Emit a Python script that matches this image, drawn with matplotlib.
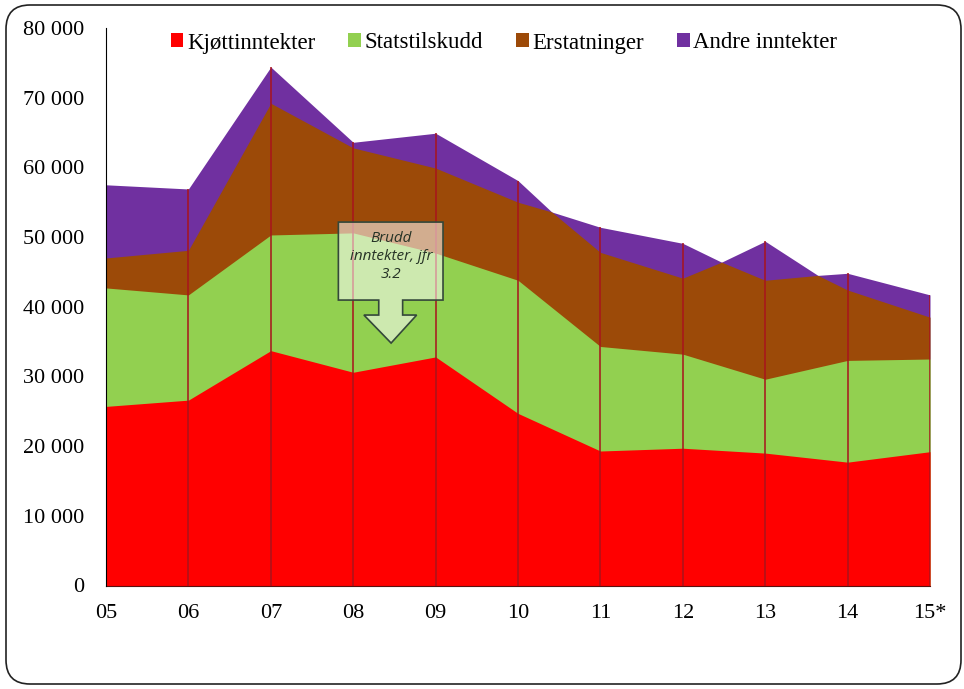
import numpy as np
import matplotlib.pyplot as plt
from matplotlib.patches import FancyBboxPatch, Polygon

# Inntekter per år (kr)
aar = ['05', '06', '07', '08', '09', '10', '11', '12', '13', '14', '15*']
kjott = [25700, 26600, 33700, 30600, 32800, 24700, 19300, 19700, 19000, 17700, 19200]
statstilskudd = [17000, 15100, 16600, 20000, 14900, 19100, 15000, 13500, 10600, 14600, 13300]
erstatninger = [4300, 6400, 18900, 12200, 12200, 11200, 13500, 10900, 14200, 10100, 6000]
andre = [10500, 8800, 5200, 800, 5000, 3100, 3600, 5000, 5600, 2400, 3200]

# punkter mellom årene der "Andre inntekter" går til null
knekk_pos = [5.41, 7.47, 8.64]
knekk_sum = [53600, 46400, 44500]

navn = ['Kjøttinntekter', 'Statstilskudd', 'Erstatninger', 'Andre inntekter']
farger = ['#FF0000', '#92D050', '#9C4A08', '#7030A0']

x = np.arange(len(aar))
sum_lag = np.cumsum([kjott, statstilskudd, erstatninger, andre], axis=0)

# de to øverste lagene får med knekkpunktene
xk = np.concatenate([x, knekk_pos])
rekkef = np.argsort(xk)
xk = xk[rekkef]
topp_erst = np.concatenate([sum_lag[2], knekk_sum])[rekkef]
topp_andre = np.concatenate([sum_lag[3], knekk_sum])[rekkef]

fig = plt.figure(figsize=(9.64, 6.89), dpi=100)
ax = fig.add_axes([106 / 964, 1 - 585.5 / 689, 824 / 964, 557.5 / 689])

plt.rcParams['font.family'] = ['Liberation Serif', 'DejaVu Serif']

# overlappende flater, bakerst først
ax.fill_between(xk, 0, topp_andre, color=farger[3], lw=0, label=navn[3])
ax.fill_between(xk, 0, topp_erst, color=farger[2], lw=0, label=navn[2])
ax.fill_between(x, 0, sum_lag[1], color=farger[1], lw=0, label=navn[1])
ax.fill_between(x, 0, sum_lag[0], color=farger[0], lw=0, label=navn[0])

# loddlinjer
ax.vlines(x, 0, sum_lag[3], color='#A8141C', lw=1.1, zorder=3)

ax.set_xlim(0, len(aar) - 1)
ax.set_ylim(0, 80000)
ax.set_yticks(np.arange(0, 80001, 10000))
ax.set_yticklabels([f'{v:,}'.replace(',', ' ') for v in range(0, 80001, 10000)],
                   fontsize=16, family='Liberation Serif')
ax.set_xticks(x)
ax.set_xticklabels(aar, fontsize=16, family='Liberation Serif')
ax.tick_params(axis='x', length=0, pad=13)
ax.tick_params(axis='y', length=0, pad=16)

for s in ['top', 'right']:
    ax.spines[s].set_visible(False)
ax.spines['left'].set_color('black')
ax.spines['bottom'].set_color('#5A1010')
ax.spines['left'].set_zorder(4)

# forklaring
h, l = ax.get_legend_handles_labels()
leg = fig.legend(h[::-1], l[::-1], loc='center', bbox_to_anchor=(504 / 964, 1 - 43 / 689),
                 ncol=4, frameon=False, handlelength=0.55, handleheight=0.55,
                 handletextpad=0.15, columnspacing=1.45,
                 prop={'family': 'Liberation Serif', 'size': 16.5})

# pil med merknad om brudd i serien
boks = [(2.82, 52150), (4.09, 52150), (4.09, 40960), (3.60, 40960), (3.60, 38810),
        (3.77, 38810), (3.46, 34790), (3.13, 38810), (3.31, 38810), (3.31, 40960),
        (2.82, 40960)]
ax.add_patch(Polygon(boks, closed=True, facecolor='white', alpha=0.55, lw=0, zorder=5))
ax.add_patch(Polygon(boks, closed=True, fill=False, edgecolor='#34483A', lw=1.2, zorder=6))
ax.text(3.46, 47200, 'Brudd\ninntekter, jfr\n3.2', ha='center', va='center',
        fontsize=11, style='italic', family='Open Sans', color='#263326',
        linespacing=1.3, zorder=7)

# avrundet ramme rundt figuren
ramme = FancyBboxPatch((0.06, 0.05), 9.55, 6.79, boxstyle='round,pad=0,rounding_size=0.24',
                       transform=fig.dpi_scale_trans, fill=False, edgecolor='#222222', lw=1.2)
fig.patches.append(ramme)

fig.savefig('out.png', dpi=100)
